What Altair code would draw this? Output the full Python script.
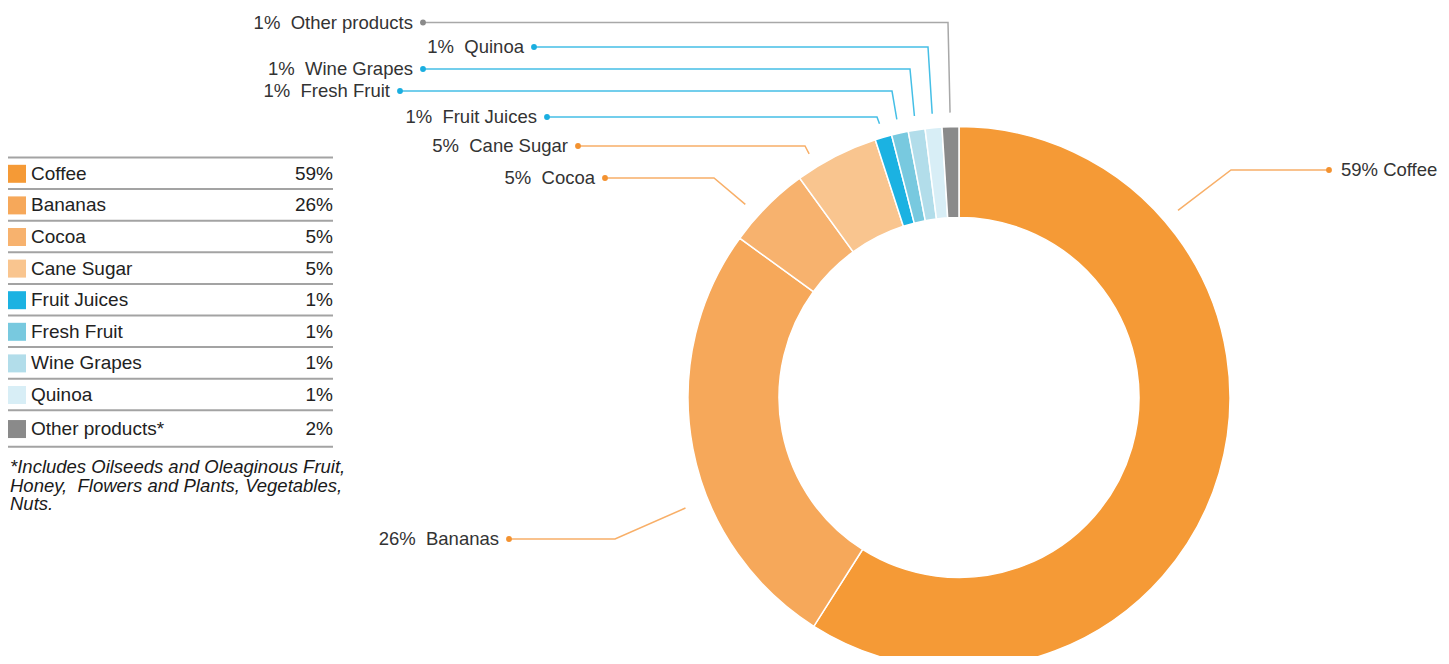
import math
import altair as alt
import pandas as pd

# ---------------- data ----------------
categories = ["Coffee", "Bananas", "Cocoa", "Cane Sugar", "Fruit Juices",
              "Fresh Fruit", "Wine Grapes", "Quinoa", "Other products*"]
slice_share = [59, 26, 5, 5, 1, 1, 1, 1, 1]
legend_pct = ["59%", "26%", "5%", "5%", "1%", "1%", "1%", "1%", "2%"]
callout_text = ["59% Coffee", "26%\u00a0 Bananas", "5%\u00a0 Cocoa",
                "5%\u00a0 Cane Sugar", "1%\u00a0 Fruit Juices", "1%\u00a0 Fresh Fruit",
                "1%\u00a0 Wine Grapes", "1%\u00a0 Quinoa", "1%\u00a0 Other products"]
slice_colors = ["#F59A36", "#F6A85A", "#F7B26E", "#F9C58F", "#1BB2E2",
                "#78C9DF", "#B2DDEA", "#D8EEF6", "#8A8A8A"]
footnote = ["*Includes Oilseeds and Oleaginous Fruit,",
            "Honey,\u00a0 Flowers and Plants, Vegetables,",
            "Nuts."]

# ---------------- layout (pixels in the chart) ----------------
W, H = 1433, 648
CX, CY = 951, 389.5
R_OUT, R_IN = 271, 180
FONT = "Liberation Sans"
TXT = "#333333"

# callout layout: dot x, row y, elbow x, end angle (deg, None = slice middle), end radius, side
callout_layout = [
    (1321, 162, 1223, 49.5, 288, "right"),
    (501, 531, 607, 248.0, 295, "left"),
    (597, 170, 706, 312.1, 288, "left"),
    (570, 138, 797, 328.4, 286, "left"),
    (539, 109, 869, None, 285, "left"),
    (392, 83, 884, None, 285, "left"),
    (415, 61, 902, None, 285, "left"),
    (526, 39, 920, None, 285, "left"),
    (415, 14.5, 940, None, 285, "left"),
]
line_colors = ["#F8AF68"] * 4 + ["#45BFE6"] * 4 + ["#A8A8A8"]
dot_colors = ["#F39230"] * 4 + ["#1AAEE0"] * 4 + ["#8A8A8A"]

# ---------------- donut ----------------
total = sum(slice_share)
slices = pd.DataFrame({
    "cat": categories,
    "share": slice_share,
    "idx": list(range(len(categories))),
    "color": slice_colors,
})
donut = alt.Chart(slices).mark_arc(
    radius=R_OUT, radius2=R_IN, stroke="white", strokeWidth=1.5
).encode(
    theta=alt.Theta("share:Q", stack=True),
    order=alt.Order("idx:Q"),
    color=alt.Color("color:N", scale=None),
    x=alt.value(CX), y=alt.value(CY),
)

# ---------------- callouts ----------------
line_rows, dot_rows, lab_rows = [], [], []
cum = 0
for i, cat in enumerate(categories):
    mid = (cum + slice_share[i] / 2) / total * 360
    cum += slice_share[i]
    dx, y, ex, ang, rr, side = callout_layout[i]
    a = math.radians(mid if ang is None else ang)
    endx = CX + rr * math.sin(a)
    endy = CY - rr * math.cos(a)
    for p, (px, py) in enumerate([(dx, y), (ex, y), (endx, endy)]):
        line_rows.append({"cat": cat, "pt": p, "x": px, "y": py, "lc": line_colors[i]})
    dot_rows.append({"cat": cat, "x": dx, "y": y, "dc": dot_colors[i]})
    lab_rows.append({"cat": cat, "side": side, "y": y, "t": callout_text[i],
                     "x": dx + 12 if side == "right" else dx - 10})

lines_df = pd.DataFrame(line_rows)
dots_df = pd.DataFrame(dot_rows)
labs_df = pd.DataFrame(lab_rows)

XN = lambda f: alt.X(f, scale=None, axis=None)
YN = lambda f: alt.Y(f, scale=None, axis=None)

callout_lines = alt.Chart(lines_df).mark_line(strokeWidth=1.5).encode(
    x=XN("x:Q"), y=YN("y:Q"), detail="cat:N", order="pt:Q",
    color=alt.Color("lc:N", scale=None),
)
callout_dots = alt.Chart(dots_df).mark_circle(size=34, opacity=1).encode(
    x=XN("x:Q"), y=YN("y:Q"), color=alt.Color("dc:N", scale=None),
)
labels_left = alt.Chart(labs_df).transform_filter(alt.datum.side == "left").mark_text(
    align="right", baseline="middle", font=FONT, fontSize=18.5, color=TXT
).encode(x=XN("x:Q"), y=YN("y:Q"), text="t:N")
labels_right = alt.Chart(labs_df).transform_filter(alt.datum.side == "right").mark_text(
    align="left", baseline="middle", font=FONT, fontSize=18.5, color=TXT
).encode(x=XN("x:Q"), y=YN("y:Q"), text="t:N")

# ---------------- legend table ----------------
LEG_X0, LEG_X1 = 0, 325
TOP, ROW_H, LAST_H = 149.5, 31.6, 36.5
rule_y = [TOP + ROW_H * k for k in range(len(categories))]
rule_y.append(rule_y[-1] + LAST_H)
row_y = [(rule_y[k] + rule_y[k + 1]) / 2 + 0.5 for k in range(len(categories))]

leg_df = pd.DataFrame({
    "cat": categories, "pct": legend_pct, "color": slice_colors, "y": row_y,
    "sx": [9] * len(categories), "tx": [23] * len(categories),
    "px": [325] * len(categories),
})
rules_df = pd.DataFrame({"y": rule_y, "x": [LEG_X0] * len(rule_y), "x2": [LEG_X1] * len(rule_y)})

leg_rules = alt.Chart(rules_df).mark_rule(color="#A3A3A3", strokeWidth=2).encode(
    x=XN("x:Q"), x2="x2:Q", y=YN("y:Q"),
)
leg_swatch = alt.Chart(leg_df).mark_square(size=324, opacity=1).encode(
    x=XN("sx:Q"), y=YN("y:Q"), color=alt.Color("color:N", scale=None),
)
leg_text = alt.Chart(leg_df).mark_text(
    align="left", baseline="middle", font=FONT, fontSize=19, color="#222222"
).encode(x=XN("tx:Q"), y=YN("y:Q"), text="cat:N")
leg_pct = alt.Chart(leg_df).mark_text(
    align="right", baseline="middle", font=FONT, fontSize=19, color="#222222"
).encode(x=XN("px:Q"), y=YN("y:Q"), text="pct:N")

foot_df = pd.DataFrame({
    "t": footnote,
    "y": [459 + 18.5 * k for k in range(len(footnote))],
    "x": [2] * len(footnote),
})
foot = alt.Chart(foot_df).mark_text(
    align="left", baseline="middle", font=FONT, fontSize=18.5,
    fontStyle="italic", color="#1a1a1a"
).encode(x=XN("x:Q"), y=YN("y:Q"), text="t:N")

chart = alt.layer(
    donut, callout_lines, callout_dots, labels_left, labels_right,
    leg_rules, leg_swatch, leg_text, leg_pct, foot,
).properties(
    width=W, height=H, padding=0,
    autosize=alt.AutoSizeParams(type="none"),
).configure_view(stroke=None)

chart.save("out.html", embed_options={"renderer": "svg", "actions": False})
